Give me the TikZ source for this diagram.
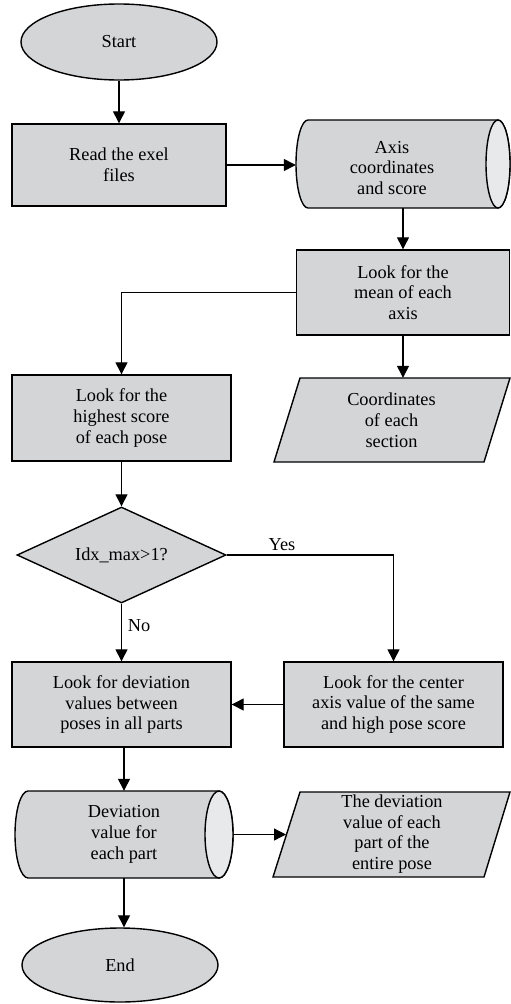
\documentclass[tikz,border=0pt]{standalone}
\usepackage{fontspec}
\setmainfont{Liberation Serif}
\usetikzlibrary{shapes.geometric,arrows.meta}
\definecolor{boxgray}{RGB}{212,213,215}
\definecolor{capgray}{RGB}{232,233,235}
\newcommand{\fs}{\fontsize{18.3}{20.8}\selectfont}
\tikzset{
  shp/.style={draw=black, line width=1.4pt, fill=boxgray},
  proc/.style={shp, rectangle, inner sep=0pt, align=center, font=\fs},
  term/.style={shp, ellipse, inner sep=0pt, font=\fs},
  dec/.style={shp, diamond, inner sep=0pt, aspect=2.18, font=\fs},
  frame/.style={rectangle, inner sep=0pt, minimum width=0pt, minimum height=0pt},
  txt/.style={align=center, font=\fs, inner sep=0pt},
  conn/.style={line width=1.3pt, -{Triangle[length=12pt,width=12pt]}},
  lbl/.style={font=\fs, inner sep=0pt},
}
\begin{document}
\begin{tikzpicture}[x=1pt,y=1pt]
\useasboundingbox (0,0) rectangle (511,-1004);

% Start
\node[term, minimum width=196pt, minimum height=76pt] (start) at (119,-42) {Start};

% Read
\node[proc, minimum width=214pt, minimum height=82pt] (read) at (119,-165) {Read the exel\\files};

% Cylinder 1
\node[frame, minimum width=214pt, minimum height=88pt] (cyl1) at (403,-164) {};
\draw[shp] (308,-120) -- (498,-120) arc[start angle=90, end angle=-90, x radius=12, y radius=44]
  -- (308,-208) arc[start angle=270, end angle=90, x radius=12, y radius=44] -- cycle;
\draw[shp, fill=capgray] (498,-164) ellipse[x radius=12, y radius=44];
\node[txt] (cyl1t) at (392,-168) {Axis\\coordinates\\and score};

% Mean
\node[proc, minimum width=213pt, minimum height=85pt] (mean) at (403,-292.5) {Look for the\\mean of each\\axis};

% Coordinates parallelogram
\node[frame, minimum width=237pt, minimum height=84pt] (coord) at (391.5,-420) {};
\draw[shp] (300,-378) -- (510,-378) -- (484,-462) -- (274,-462) -- cycle;
\node[txt] (coordt) at (391.5,-420) {Coordinates\\of each\\section};

% Highest
\node[proc, minimum width=219pt, minimum height=86pt] (high) at (121.5,-418) {Look for the\\highest score\\of each pose};

% Decision
\node[dec, minimum width=209pt, minimum height=96pt] (dia) at (121.5,-555) {Idx\_max>1?};

% Deviation box
\node[proc, minimum width=219pt, minimum height=85pt] (dev) at (121.5,-704.5) {Look for deviation\\values between\\poses in all parts};

% Center box
\node[proc, minimum width=219pt, minimum height=85pt] (ctr) at (393.5,-704.5) {Look for the center\\axis value of the same\\and high pose score};

% Cylinder 2
\node[frame, minimum width=218pt, minimum height=87pt] (cyl2) at (124,-834.5) {};
\draw[shp] (28,-791) -- (219,-791) arc[start angle=90, end angle=-90, x radius=14, y radius=43.5]
  -- (28,-878) arc[start angle=270, end angle=90, x radius=13, y radius=43.5] -- cycle;
\draw[shp, fill=capgray] (219,-834.5) ellipse[x radius=14, y radius=43.5];
\node[txt] (cyl2t) at (124,-834.5) {Deviation\\value for\\each part};

% Parallelogram 2
\draw[shp] (300,-792) -- (510,-792) -- (484,-877) -- (273,-877) -- cycle;
\coordinate (par2w) at (286,-834.5);
\node[txt] (par2t) at (392,-834) {The deviation\\value of each\\part of the\\entire pose};

% End
\node[term, minimum width=196pt, minimum height=74pt] (endn) at (120,-965) {End};

% Connectors
\draw[conn] (start.south) -- (read.north);
\draw[conn] (read.east) -- (read.east -| cyl1.west);
\draw[conn] (cyl1.south) -- (mean.north);
\draw[conn] (mean.west) -| (high.north);
\draw[conn] (mean.south) -- (mean.south |- coord.north);
\draw[conn] (high.south) -- (dia.north);
\draw[conn] (dia.east) -| (ctr.north);
\node[lbl] (yes) at (282,-545) {Yes};
\draw[conn] (dia.south) -- (dev.north);
\node[lbl] (no) at (139,-626) {No};
\draw[conn] (ctr.west) -- (dev.east);
\draw[conn] (cyl2.north |- dev.south) -- (cyl2.north);
\draw[conn] (cyl2.east) -- (par2w);
\draw[conn] (cyl2.south) -- (cyl2.south |- endn.north);
\end{tikzpicture}
\end{document}
